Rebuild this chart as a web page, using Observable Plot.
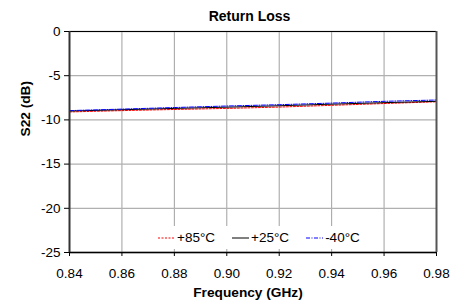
<!DOCTYPE html>
<html>
<head>
<meta charset="utf-8">
<script src="https://cdn.jsdelivr.net/npm/d3@7"></script>
<script src="https://cdn.jsdelivr.net/npm/@observablehq/plot@0.6"></script>
<style>
  html, body { margin: 0; padding: 0; background: #fff; }
  #wrap { position: relative; width: 463px; height: 303px; font-family: "Liberation Sans", Arial, sans-serif; }
  #legend { position: absolute; left: 152px; top: 226px; width: 212px; height: 23px; background: #fff;
            display: flex; align-items: center; font-size: 13.5px; color: #000; padding-left: 6px; box-sizing: border-box; }
  .item { display: flex; align-items: center; margin-right: 17px; }
  .item svg { margin-right: 2px; }
</style>
</head>
<body>
<div id="wrap"></div>
<script>
const freq = [0.84, 0.86, 0.88, 0.90, 0.92, 0.94, 0.96, 0.98];
const s22_p85 = [-9.1, -8.95, -8.82, -8.7, -8.55, -8.35, -8.15, -7.95];
const s22_p25 = [-9.0, -8.85, -8.7, -8.56, -8.4, -8.22, -8.05, -7.9];
const s22_m40 = [-8.95, -8.78, -8.6, -8.43, -8.28, -8.1, -7.9, -7.75];
const seriesNames = ["+85°C", "+25°C", "-40°C"];
const seriesColors = ["#ff0000", "#000000", "#0000ff"];
const seriesDash = ["2,1.5", null, "4,1.5,1,1.5"];
const xTicks = [0.84, 0.86, 0.88, 0.90, 0.92, 0.94, 0.96, 0.98];
const yTicks = [0, -5, -10, -15, -20, -25];

const seriesValues = [s22_p85, s22_p25, s22_m40];
const lineMarks = seriesValues.map((vals, i) =>
  Plot.line(freq.map((f, j) => ({f, v: vals[j]})), {
    x: "f", y: "v", stroke: seriesColors[i], strokeWidth: 1,
    strokeDasharray: seriesDash[i] || undefined
  })
);

const chart = Plot.plot({
  width: 463, height: 303,
  marginTop: 31, marginBottom: 51, marginLeft: 69, marginRight: 27,
  style: { fontFamily: "'Liberation Sans', Arial, sans-serif", fontSize: "13.5px", color: "#000", background: "#fff" },
  x: { domain: [0.84, 0.98] },
  y: { domain: [-25, 0] },
  marks: [
    Plot.gridX(xTicks, { stroke: "#a0a0a0", strokeOpacity: 1, strokeWidth: 1 }),
    Plot.gridY(yTicks, { stroke: "#b0b0b0", strokeOpacity: 1, strokeWidth: 1.3 }),
    ...lineMarks,
    Plot.ruleY([0], { stroke: "#000", strokeWidth: 1 }),
    Plot.ruleY([-25], { stroke: "#000", strokeWidth: 1.5 }),
    Plot.ruleX([0.84], { stroke: "#333", strokeWidth: 2 }),
    Plot.ruleX([0.98], { stroke: "#555", strokeWidth: 2 }),
    Plot.axisX(xTicks, { tickFormat: d => d.toFixed(2), tickSize: 4, tickPadding: 12, label: null, stroke: "#000" }),
    Plot.axisY(yTicks, { tickFormat: d => String(d), tickSize: 5, tickPadding: 4, label: null, stroke: "#000" }),
    Plot.text(["Return Loss"], { frameAnchor: "top", dy: -15, dx: -3.5, lineAnchor: "middle", fontWeight: "bold", fontSize: 14 }),
    Plot.text(["Frequency (GHz)"], { frameAnchor: "bottom", dy: 40, dx: -5, lineAnchor: "middle", fontWeight: "bold", fontSize: 13.7 }),
    Plot.text(["S22 (dB)"], { frameAnchor: "left", dx: -43.5, dy: -5.5, rotate: -90, lineAnchor: "middle", fontWeight: "bold", fontSize: 13.7 })
  ]
});

const wrap = document.getElementById("wrap");
wrap.appendChild(chart);

const legend = document.createElement("div");
legend.id = "legend";
seriesNames.forEach((name, i) => {
  const item = document.createElement("div");
  item.className = "item";
  const sw = `<svg width="17" height="10"><line x1="0" x2="17" y1="5" y2="5" stroke="${seriesColors[i]}" stroke-width="1" ${seriesDash[i] ? `stroke-dasharray="${seriesDash[i]}"` : ""}/></svg>`;
  item.innerHTML = sw + `<span>${name}</span>`;
  legend.appendChild(item);
});
wrap.appendChild(legend);
</script>
</body>
</html>
